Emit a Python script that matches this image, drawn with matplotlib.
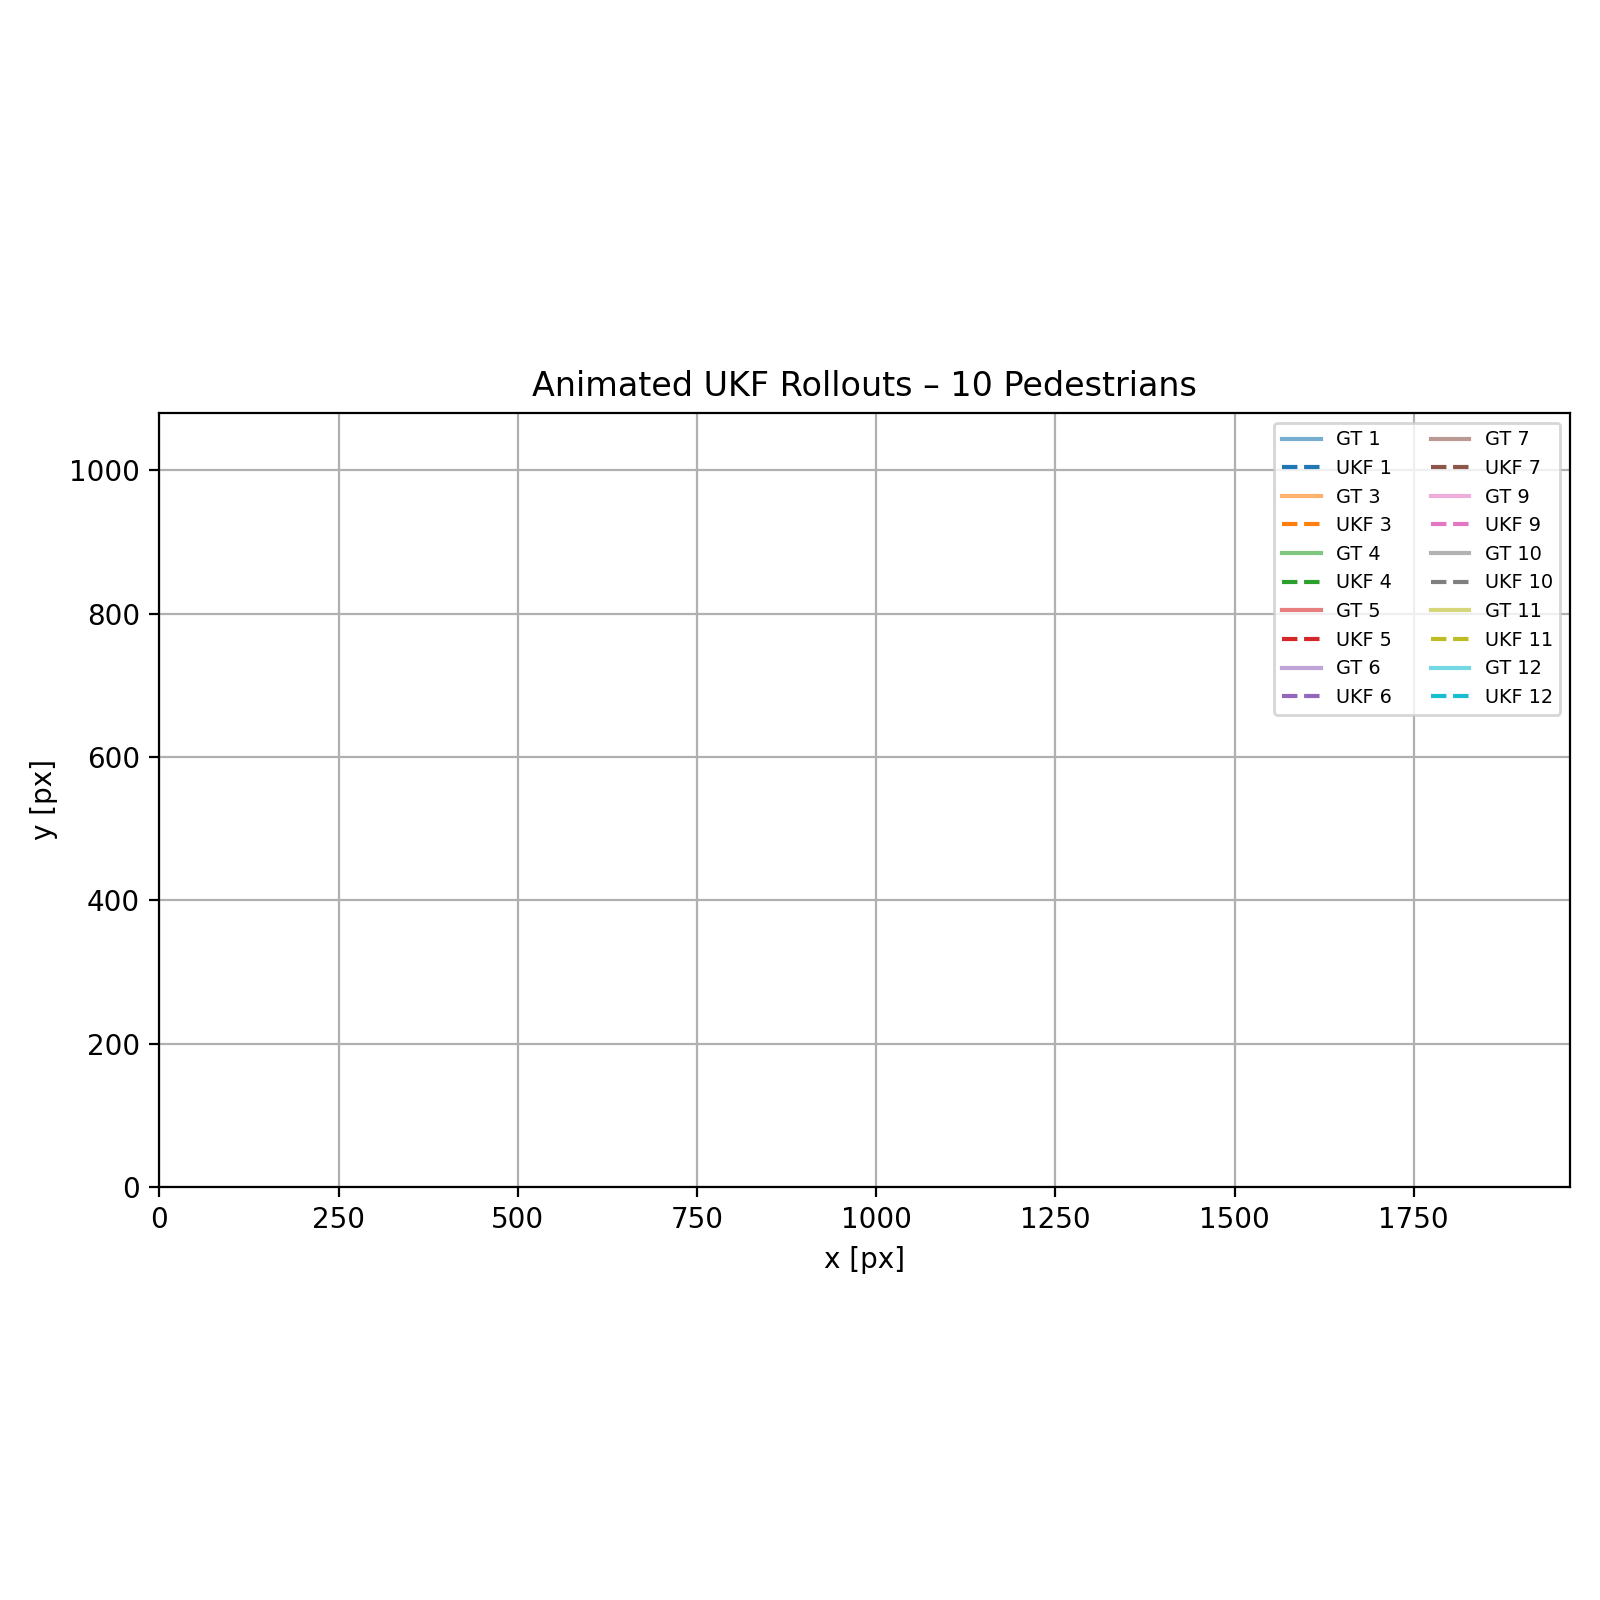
import numpy as np
import matplotlib
matplotlib.use("Agg")
import matplotlib.pyplot as plt

# pedestrian ids shown in the legend (no trajectory points drawn yet)
ped_ids = [1, 3, 4, 5, 6, 7, 9, 10, 11, 12]
frame_w = 1968
frame_h = 1080
title = "Animated UKF Rollouts \u2013 %d Pedestrians" % len(ped_ids)

colors = plt.cm.tab10(np.arange(len(ped_ids)) % 10)

fig, ax = plt.subplots(figsize=(8, 8), dpi=200)
for pid, c in zip(ped_ids, colors):
    ax.plot([], [], '-', color=c, alpha=0.6, label="GT %d" % pid)
    ax.plot([], [], '--', color=c, label="UKF %d" % pid)

ax.set_xlim(0, frame_w)
ax.set_ylim(0, frame_h)
ax.set_aspect('equal')
ax.set_xlabel("x [px]")
ax.set_ylabel("y [px]")
ax.set_title(title)
ax.grid(True)
ax.legend(loc='upper right', ncol=2, fontsize='x-small')
fig.tight_layout()
fig.savefig("out.png", dpi=200)
